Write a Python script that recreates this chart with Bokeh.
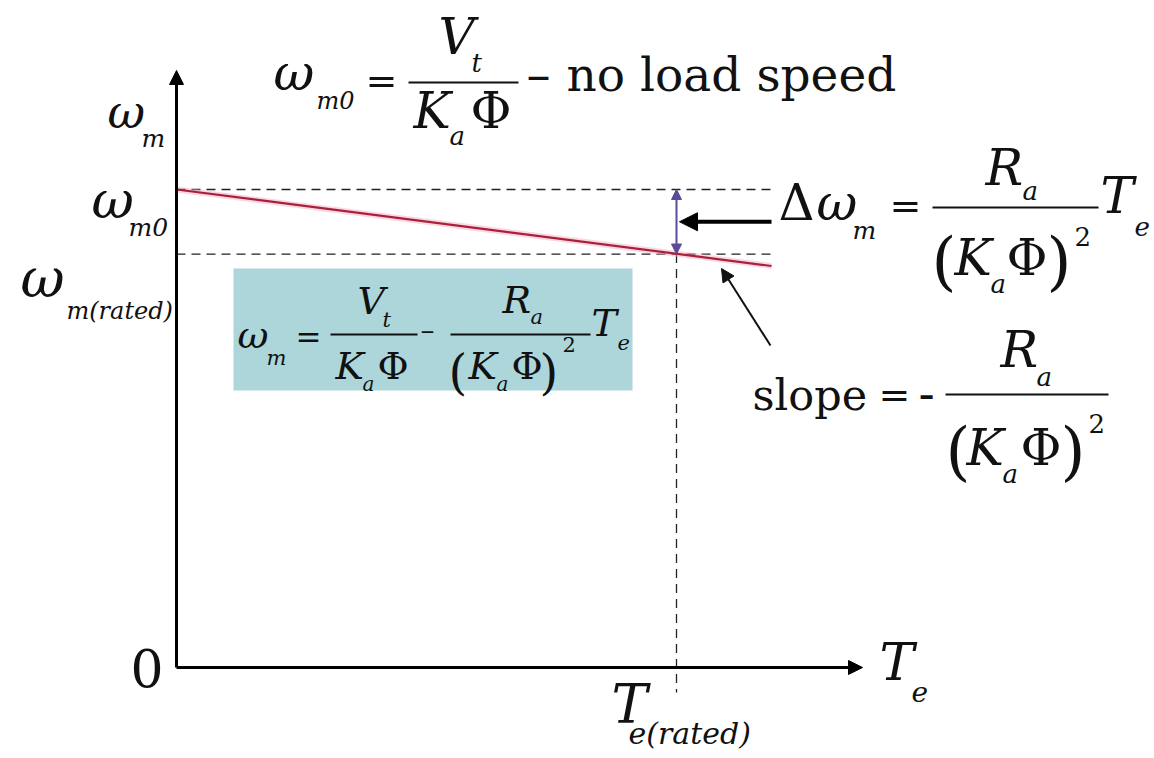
from bokeh.plotting import figure
from bokeh.models import Range1d, Arrow, NormalHead, ColumnDataSource, BoxAnnotation
from bokeh.core.properties import value, field
from bokeh.embed import file_html
from bokeh.resources import INLINE

W, H = 1154, 758

# DC motor speed-torque characteristic (per-unit values)
torque_line = [0.0, 1.19]
speed_line = [1.0, 0.84]
speed_no_load = 1.0
speed_rated = 0.865
torque_rated = 1.0

# axis extents (per-unit)
torque_axis_end = 1.372
speed_axis_end = 1.249

# page layout: origin of the torque/speed axes in page pixels and scale
ORIGIN_X, ORIGIN_Y = 176, 667
PX_PER_T, PX_PER_W = 500, 478

FONT = "DejaVu Serif"
# Bokeh places an "alphabetic" text a little below the requested y;
# this fraction of the font size compensates for it
BASELINE_SHIFT = 0.40


def to_data(px, py):
    """Page pixel (from top-left) -> (torque, speed)."""
    return (px - ORIGIN_X) / PX_PER_T, (ORIGIN_Y - py) / PX_PER_W


x0, y_top = to_data(0, 0)
x1, y_bot = to_data(W, H)

p = figure(width=W, height=H, min_border=0, toolbar_location=None,
           x_axis_location=None, y_axis_location=None,
           x_range=Range1d(x0, x1), y_range=Range1d(y_bot, y_top),
           output_backend="svg")
p.outline_line_color = None
p.grid.visible = False
p.background_fill_color = "white"
p.border_fill_color = "white"

# highlighted formula panel
bl, bt = to_data(233, 268)
br, bb = to_data(632, 390)
p.add_layout(BoxAnnotation(left=bl, right=br, top=bt, bottom=bb,
                           fill_color="#add6db", fill_alpha=1.0,
                           line_color=None, level="underlay"))

# reference dashed lines at no-load and rated speed, and at rated torque
dash = "9 6"
p.line([0, torque_line[-1]], [speed_no_load, speed_no_load],
       line_color="#222222", line_width=1.3, line_dash=dash)
p.line([0, torque_line[-1]], [speed_rated, speed_rated],
       line_color="#222222", line_width=1.3, line_dash=dash)
p.line([torque_rated, torque_rated], [speed_rated, to_data(0, 692)[1]],
       line_color="#222222", line_width=1.3, line_dash=dash)

# speed-torque line with soft glow
p.line(torque_line, speed_line, line_color="#f3a9bb", line_width=6, line_alpha=0.45)
p.line(torque_line, speed_line, line_color="#a8203c", line_width=2.2)

# axes as arrows
p.add_layout(Arrow(x_start=0, y_start=0, x_end=torque_axis_end, y_end=0,
                   line_width=3, line_color="black",
                   end=NormalHead(size=14, fill_color="black", line_color="black")))
p.add_layout(Arrow(x_start=0, y_start=0, x_end=0, y_end=speed_axis_end,
                   line_width=3, line_color="black",
                   end=NormalHead(size=14, fill_color="black", line_color="black")))

# speed drop indicator
purple = "#5b4a9a"
p.add_layout(Arrow(x_start=torque_rated, y_start=speed_rated,
                   x_end=torque_rated, y_end=speed_no_load,
                   line_width=2, line_color=purple,
                   start=NormalHead(size=10, fill_color=purple, line_color=purple),
                   end=NormalHead(size=10, fill_color=purple, line_color=purple)))

mid_speed = (speed_no_load + speed_rated) / 2
p.add_layout(Arrow(x_start=torque_line[-1], y_start=mid_speed,
                   x_end=to_data(679, 0)[0], y_end=mid_speed,
                   line_width=4, line_color="black",
                   end=NormalHead(size=18, fill_color="black", line_color="black")))

sx0, sy0 = to_data(770, 345)
sx1, sy1 = to_data(721, 268)
p.add_layout(Arrow(x_start=sx0, y_start=sy0, x_end=sx1, y_end=sy1,
                   line_width=2, line_color="#111111",
                   end=NormalHead(size=13, fill_color="#111111", line_color="#111111")))

# fraction bars (page pixels: x_left, x_right, y)
bars = [
    (408, 518, 82),
    (932, 1098, 207),
    (945, 1108, 394),
    (330, 417, 334),
    (450, 590, 334),
]
bx0, by0, bx1, by1 = [], [], [], []
for a, b, y in bars:
    xa, ya = to_data(a, y)
    xb, yb = to_data(b, y)
    bx0.append(xa); by0.append(ya); bx1.append(xb); by1.append(yb)
p.segment(bx0, by0, bx1, by1, line_color="#111111", line_width=2)

I, N = "italic", "normal"
# text pieces: (text, x_left px, baseline px, size px, style)
pieces = [
    # no-load speed
    ("ω", 273, 92, 50, I), ("m0", 316, 110, 24, I), ("=", 365, 96, 38, N),
    ("V", 438, 56, 50, I), ("t", 471, 73, 26, I),
    ("K", 413, 130, 50, I), ("a", 449, 146, 26, I), ("Φ", 470, 130, 50, N),
    ("–", 526, 93, 48, N), ("no load speed", 566, 93, 47, N),
    # speed drop
    ("Δ", 778, 222, 50, N), ("ω", 816, 222, 50, I), ("m", 852, 240, 25, I),
    ("=", 889, 221, 38, N),
    ("R", 985, 187, 50, I), ("a", 1022, 201, 26, I),
    ("(", 931, 286, 64, N), ("K", 954, 277, 50, I), ("a", 990, 294, 26, I),
    ("Φ", 1006, 277, 50, N), (")", 1046, 286, 64, N), ("2", 1074, 246, 26, N),
    ("T", 1100, 215, 50, I), ("e", 1134, 236, 26, I),
    # slope
    ("slope", 752, 412, 43, N), ("=", 878, 410, 38, N), ("-", 918, 411, 48, N),
    ("R", 1000, 369, 50, I), ("a", 1036, 387, 26, I),
    ("(", 945, 476, 64, N), ("K", 966, 467, 50, I), ("a", 1002, 484, 26, I),
    ("Φ", 1020, 467, 50, N), (")", 1060, 476, 64, N), ("2", 1088, 433, 26, N),
    # speed equation in the panel
    ("ω", 237, 350, 38, I), ("m", 266, 366, 21, I), ("=", 295, 349, 31, N),
    ("V", 357, 316, 38, I), ("t", 382, 328, 21, I),
    ("K", 335, 381, 38, I), ("a", 362, 391, 20, I), ("Φ", 377, 381, 38, N),
    ("–", 420, 341, 28, N),
    ("R", 502, 315, 38, I), ("a", 530, 325, 21, I),
    ("(", 448, 391, 48, N), ("K", 468, 381, 38, I), ("a", 496, 391, 20, I),
    ("Φ", 511, 381, 38, N), (")", 539, 391, 48, N), ("2", 562, 352, 21, N),
    ("T", 591, 338, 38, I), ("e", 617, 350, 21, I),
    # axis labels
    ("ω", 107, 130, 46, I), ("m", 141, 148, 25, I),
    ("ω", 91, 220, 52, I), ("m0", 128, 237, 25, I),
    ("ω", 20, 300, 54, I), ("m(rated)", 66, 320, 24, I),
    ("0", 130, 688, 52, N),
    ("T", 879, 682, 52, I), ("e", 911, 702, 28, I),
    ("T", 611, 726, 54, I), ("e(rated)", 628, 745, 30, I),
]

src = ColumnDataSource(dict(
    x=[to_data(px, py)[0] for _, px, py, _, _ in pieces],
    y=[to_data(px, py - BASELINE_SHIFT * s)[1] for _, px, py, s, _ in pieces],
    text=[t for t, *_ in pieces],
    size=[f"{s}px" for *_, s, _ in pieces],
    style=[st for *_, st in pieces],
))
p.text(x="x", y="y", text="text", source=src,
       text_font=value(FONT), text_font_size=field("size"),
       text_font_style=field("style"), text_color="#111111",
       text_baseline="alphabetic", text_align="left")

open("out.html", "w", encoding="utf-8").write(file_html(p, INLINE))
